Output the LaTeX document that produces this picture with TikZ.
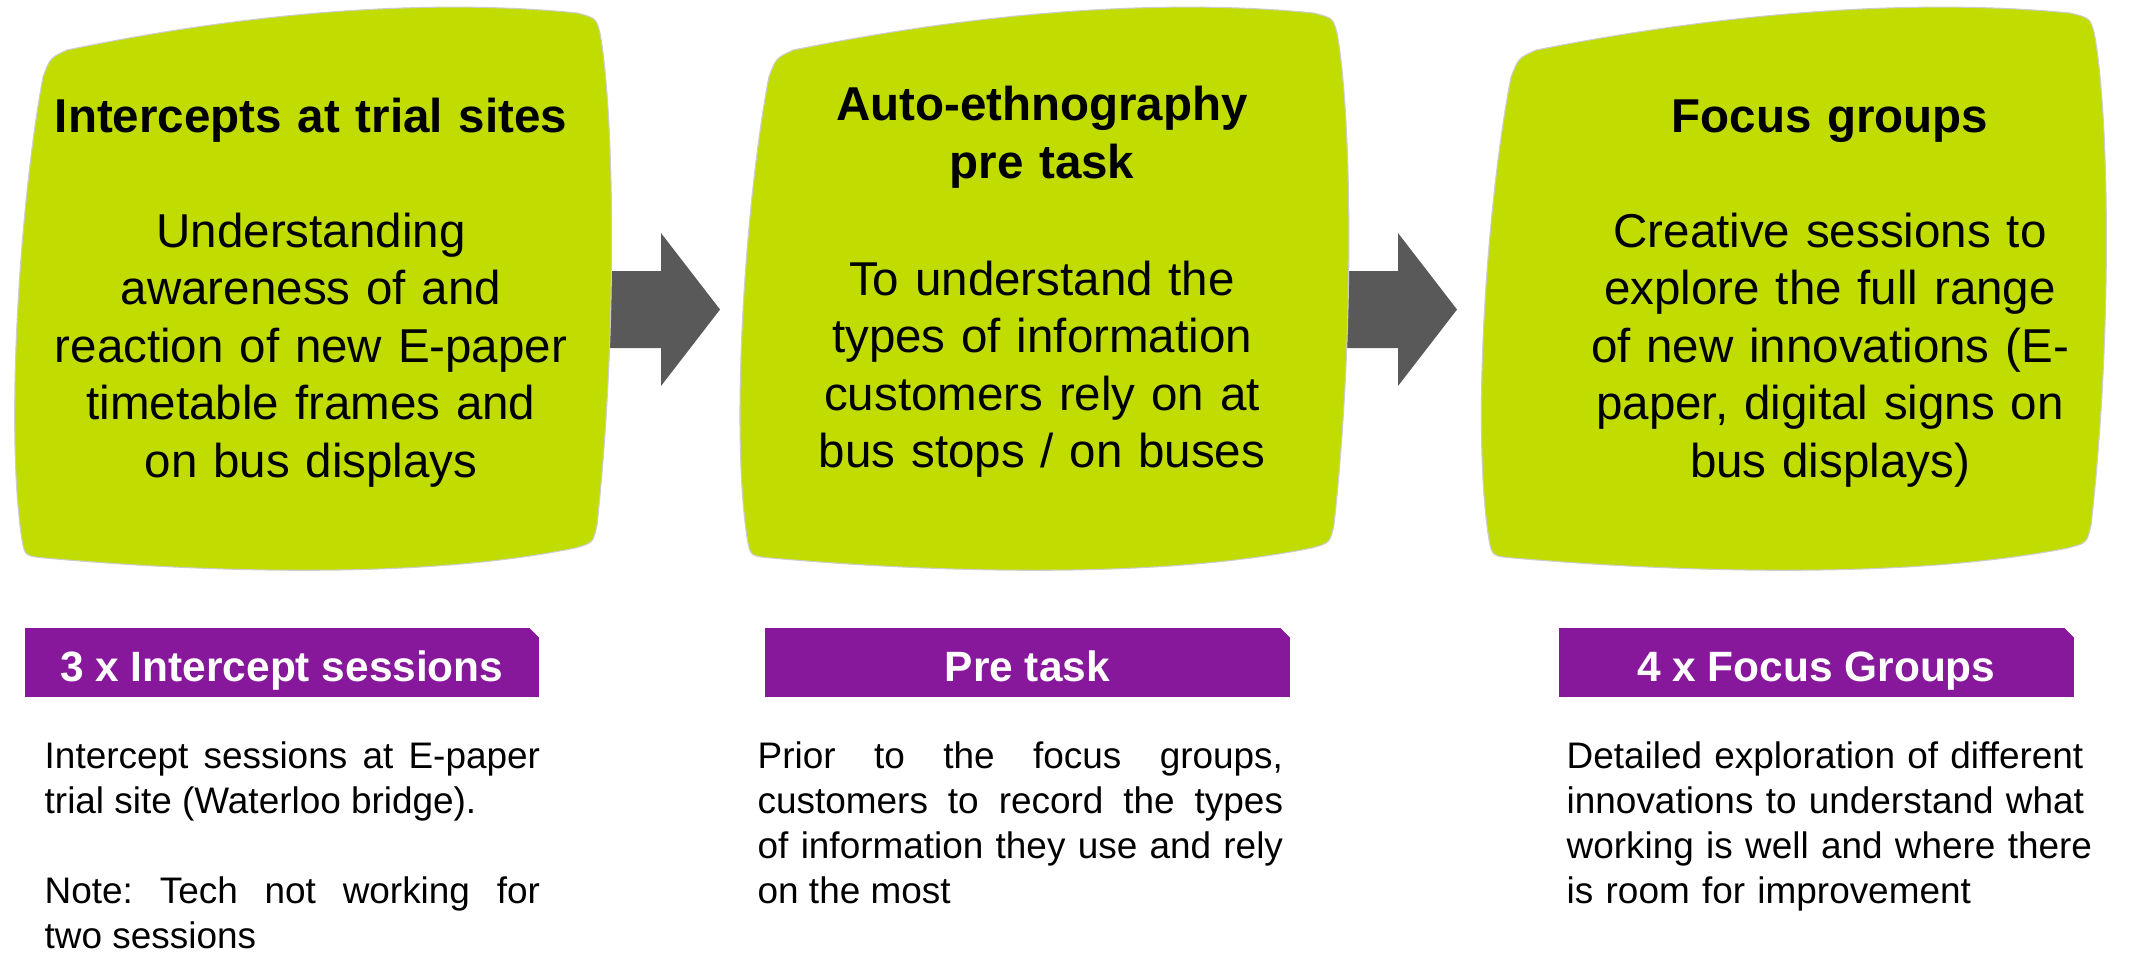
\documentclass[tikz,border=0pt]{standalone}
\usepackage{fontspec}
\setmainfont{Liberation Sans}
\usetikzlibrary{calc}
\definecolor{lime}{RGB}{193,220,0}
\definecolor{plum}{RGB}{135,24,155}
\definecolor{arrowgray}{RGB}{89,89,89}
\definecolor{edgegray}{RGB}{205,205,205}
\tikzset{
  blob/.style={fill=lime, draw=edgegray, line width=0.3pt},
  blockarrow/.style={fill=arrowgray},
  titletext/.style={anchor=base, inner sep=0pt, text width=6.2cm, align=center, font=\bfseries\fontsize{13.51}{16.39}\selectfont},
  bodytext/.style={anchor=base, inner sep=0pt, text width=6.2cm, align=center, font=\fontsize{13.51}{16.39}\selectfont},
  bannerbox/.style={fill=plum, inner sep=0pt, minimum height=0.69cm, anchor=north west},
  bannertext/.style={anchor=base, inner sep=0pt, text=white, font=\bfseries\fontsize{12.06}{14}\selectfont},
  notetext/.style={anchor=base west, inner sep=0pt, font=\frenchspacing\fontsize{10.5}{12.86}\selectfont},
}
\newcommand{\blobpath}{(43,77) .. controls (50,58) .. (67,50) .. controls (250,12) and (430,-2) .. (577,13) .. controls (596,18) .. (600,33) .. controls (614,110) and (618,330) .. (597,525) .. controls (593,543) .. (575,548) .. controls (420,580) and (200,572) .. (45,558) .. controls (25,556) .. (22,540) .. controls (5,430) and (20,200) .. (43,77) -- cycle}
\begin{document}
\begin{tikzpicture}[x=0.01cm, y=-0.01cm]
\tolerance=10000 \hbadness=10000 \frenchspacing
\useasboundingbox (0,0) rectangle (2139,959);
\fill[white] (0,0) rectangle (2139,959);

% block arrows (under the shapes)
\coordinate (a1) at (720,309.5);
\coordinate (a2) at (1457,309.5);
\foreach \t in {a1,a2}
  \fill[blockarrow] (\t) -- ++(-59,-76.5) -- ++(0,38) -- ++(-66,0) -- ++(0,77) -- ++(66,0) -- ++(0,38) -- cycle;

% green shapes
\fill[blob] \blobpath;
\begin{scope}[shift={(725,0)}, xscale=1.02]
  \fill[blob] \blobpath;
\end{scope}
\begin{scope}[shift={(1466,0)}, xscale=1.047]
  \fill[blob] \blobpath;
\end{scope}

% texts in shapes
\node[titletext] (t1) at (311,132) {Intercepts at trial sites};
\node[bodytext] (d1) at (311,247) {Understanding\\awareness of and\\reaction of new E-paper\\timetable frames and\\on bus displays};
\node[titletext] (t2) at (1042,120.5) {Auto-ethnography\\pre task};
\node[bodytext] (d2) at (1042,295) {To understand the\\types of information\\customers rely on at\\bus stops / on buses};
\node[titletext] (t3) at (1830,132) {Focus groups};
\node[bodytext] (d3) at (1830,247) {Creative sessions to\\explore the full range\\of new innovations (E-\\paper, digital signs on\\bus displays)};

% banners
\node[bannerbox, minimum width=5.14cm] (b1) at (24,627) {};
\node[bannerbox, minimum width=5.25cm] (b2) at (764,627) {};
\node[bannerbox, minimum width=5.15cm] (b3) at (1558,627) {};
\foreach \b in {b1,b2,b3}
  \fill[white] (\b.north east) -- +(-11,0) -- +(0,11) -- cycle;
\node[bannertext] (l1) at ($(b1.south)+(0,-16)$) {3 x Intercept sessions};
\node[bannertext] (l2) at ($(b2.south)+(0,-16)$) {Pre task};
\node[bannertext] (l3) at ($(b3.south)+(0,-16)$) {4 x Focus Groups};

% notes
\node[notetext, text width=4.95cm, align=justify] (n1) at (44,768) {Intercept sessions at E-paper\linebreak trial site (Waterloo bridge).\par\vspace{12.86pt}Note: Tech not working for\linebreak two sessions};
\node[notetext, text width=5.25cm, align=justify] (n2) at (757,768) {Prior to the focus groups,\linebreak customers to record the types\linebreak of information they use and rely\linebreak on the most};
\node[notetext, text width=5.4cm, align=left] (n3) at (1566,768) {Detailed exploration of different\\innovations to understand what\\working is well and where there\\is room for improvement};
\end{tikzpicture}
\end{document}
